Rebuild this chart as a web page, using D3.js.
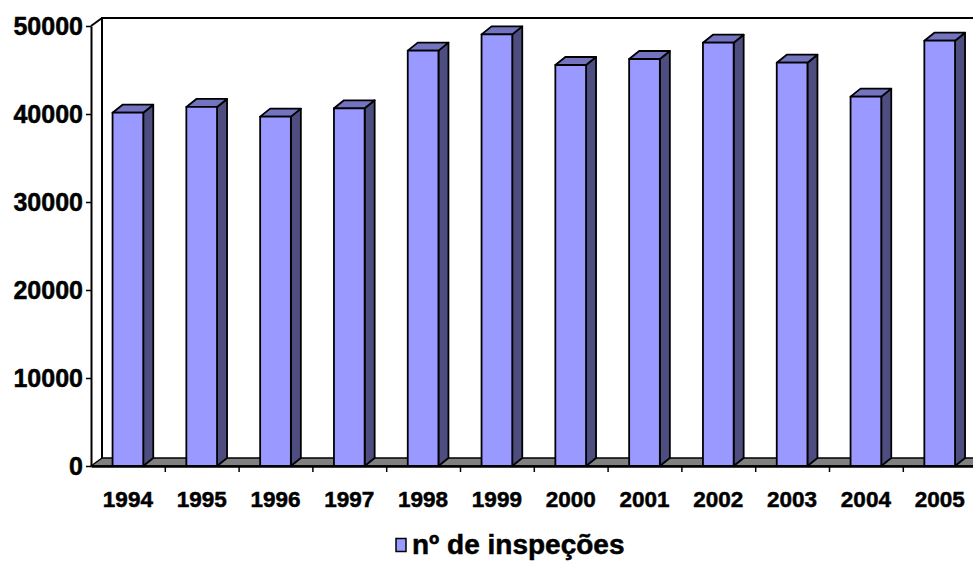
<!DOCTYPE html>
<html>
<head>
<meta charset="utf-8">
<script src="https://cdn.jsdelivr.net/npm/d3@7"></script>
<style>
  body { margin: 0; background: #fff; }
  text { font-family: "Liberation Sans", Arial, sans-serif; font-weight: bold; fill: #000; stroke: #000; stroke-width: 0.5px; }
</style>
</head>
<body>
<div class="holder"></div>
<script>
// anos e numero de inspecoes
var years = ["1994", "1995", "1996", "1997", "1998", "1999", "2000", "2001", "2002", "2003", "2004", "2005"];
var inspections = [40150, 40800, 39700, 40650, 47200, 49050, 45570, 46250, 48100, 45830, 41970, 48330];
var yTicks = [0, 10000, 20000, 30000, 40000, 50000];
var seriesName = "nº de inspeções";

var width = 973,
    height = 561;

// front plane of the plot, and the 3d depth offsets
var plotLeft = 91, plotRight = 976.6, plotBottom = 466, plotTop = 26;
var wallDx = 11, wallDy = 8;
var barDx = 10, barDy = 8;

var svg = d3.select(".holder").append("svg")
    .attr("width", width)
    .attr("height", height)

var x = d3.scaleBand().domain(years).range([plotLeft, plotRight]).paddingInner(0.584).paddingOuter(0.292)
var xEdge = d3.scaleLinear().domain([0, years.length]).range([plotLeft, plotRight])
var y = d3.scaleLinear().domain([0, 50000]).range([plotBottom, plotTop])

// walls
svg.append("path")
    .attr("d", "M" + (plotLeft + wallDx) + "," + (plotBottom - wallDy) + "V" + (plotTop - wallDy) + "H" + (plotRight + wallDx))
    .attr("fill", "none")
    .attr("stroke", "#000")
    .attr("stroke-width", 2)

svg.append("path")
    .attr("d", "M" + plotLeft + "," + plotTop + "L" + (plotLeft + wallDx) + "," + (plotTop - wallDy))
    .attr("fill", "none")
    .attr("stroke", "#000")
    .attr("stroke-width", 2)

// floor
svg.append("polygon")
    .attr("points", [[plotLeft, plotBottom], [plotLeft + wallDx, plotBottom - wallDy], [plotRight + wallDx, plotBottom - wallDy], [plotRight, plotBottom]].join(" "))
    .attr("fill", "#808080")
    .attr("stroke", "#000")
    .attr("stroke-width", 1.5)
    .attr("stroke-linejoin", "round")

// bars
var bars = svg.append("g").attr("class", "bars")
    .selectAll("g")
    .data(years.map(function(d, i) { return {year: d, value: inspections[i]} }))
    .enter().append("g")

bars.append("polygon")
    .attr("points", function(d) {
        var x0 = x(d.year) + x.bandwidth(), y0 = y(d.value)
        return [[x0, y0], [x0 + barDx, y0 - barDy], [x0 + barDx, plotBottom - barDy], [x0, plotBottom]].join(" ")
    })
    .attr("fill", "#4d4d80")

bars.append("polygon")
    .attr("points", function(d) {
        var x0 = x(d.year), x1 = x0 + x.bandwidth(), y0 = y(d.value)
        return [[x0, y0], [x0 + barDx, y0 - barDy], [x1 + barDx, y0 - barDy], [x1, y0]].join(" ")
    })
    .attr("fill", "#7373bf")

bars.append("rect")
    .attr("x", d => x(d.year))
    .attr("y", d => y(d.value))
    .attr("width", x.bandwidth())
    .attr("height", d => plotBottom - y(d.value))
    .attr("fill", "#9999ff")

bars.selectAll("polygon, rect")
    .attr("stroke", "#000")
    .attr("stroke-width", 1.8)
    .attr("stroke-linejoin", "round")

// y axis
var yAxis = svg.append("g")
    .attr("transform", "translate(" + plotLeft + ",0)")
    .call(d3.axisLeft(y).tickValues(yTicks).tickSize(5).tickSizeOuter(0).tickPadding(3).tickFormat(d3.format("d")))
yAxis.select(".domain").attr("stroke-width", 2)
yAxis.selectAll(".tick line").attr("stroke-width", 1.5)
yAxis.selectAll("text")
    .style("font-size", "25px")
    .attr("font-family", null)
    .attr("fill", null)

// x axis
var xAxis = svg.append("g")
    .attr("transform", "translate(0," + plotBottom + ")")
    .call(d3.axisBottom(xEdge).tickValues(d3.range(1, years.length)).tickSize(6).tickSizeOuter(0).tickFormat(""))
xAxis.select(".domain").attr("stroke-width", 2.5)
xAxis.selectAll(".tick line").attr("stroke-width", 1.5)

svg.append("g")
    .selectAll("text")
    .data(years)
    .enter().append("text")
    .attr("x", d => x(d) + x.bandwidth() / 2)
    .attr("y", 507)
    .attr("text-anchor", "middle")
    .style("font-size", "22.5px")
    .text(d => d)

// legend
svg.append("rect")
    .attr("x", 396)
    .attr("y", 538.5)
    .attr("width", 10)
    .attr("height", 13)
    .attr("fill", "#9999ff")
    .attr("stroke", "#000")
    .attr("stroke-width", 1.5)

svg.append("text")
    .attr("x", 412)
    .attr("y", 554)
    .style("font-size", "28px")
    .text(seriesName)
</script>
</body>
</html>
